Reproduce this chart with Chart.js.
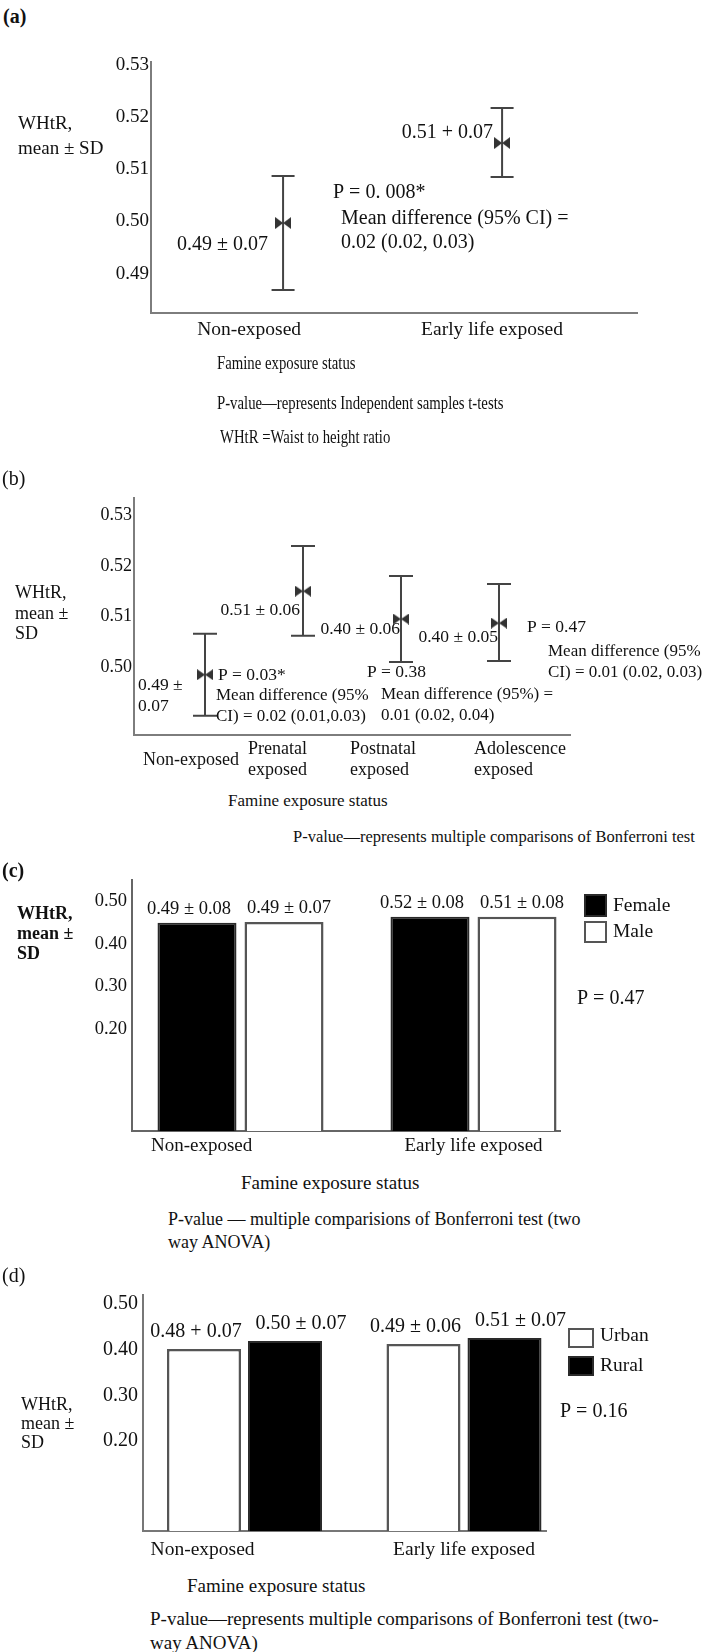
<!DOCTYPE html>
<html>
<head>
<meta charset="utf-8">
<title>WHtR by famine exposure</title>
<script src="https://cdn.jsdelivr.net/npm/chart.js@4.4.1/dist/chart.umd.min.js"></script>
<style>
    html, body { margin: 0; padding: 0; background: #fff; }
    #page {
        position: relative;
        width: 712px;
        height: 1652px;
        overflow: hidden;
        font-family: "Liberation Serif", "Times New Roman", serif;
        color: #111;
    }
    #page canvas { position: absolute; left: 0; }
    .txt { position: absolute; white-space: nowrap; }
    .narrow { transform: scaleX(0.82); transform-origin: 0 0; }
</style>
</head>
<body>
<div id="page">
    <canvas id="chartA" width="712" height="330" style="top:30px;width:712px;height:330px"></canvas>
    <canvas id="chartB" width="712" height="300" style="top:485px;width:712px;height:300px"></canvas>
    <canvas id="chartC" width="712" height="305" style="top:860px;width:712px;height:305px"></canvas>
    <canvas id="chartD" width="712" height="290" style="top:1280px;width:712px;height:290px"></canvas>

    <!-- panel letters -->
    <div class="txt" style="left:3px;top:5px;font-size:20px;line-height:22px;font-weight:bold">(a)</div>
    <div class="txt" style="left:2px;top:467px;font-size:20px;line-height:22px">(b)</div>
    <div class="txt" style="left:2px;top:859px;font-size:20px;line-height:22px;font-weight:bold">(c)</div>
    <div class="txt" style="left:2px;top:1264px;font-size:20px;line-height:22px">(d)</div>

    <!-- y axis titles -->
    <div class="txt" style="left:18px;top:110px;font-size:19px;line-height:25px">WHtR,<br>mean ± SD</div>
    <div class="txt" style="left:15px;top:582px;font-size:18px;line-height:20.5px">WHtR,<br>mean ±<br>SD</div>
    <div class="txt" style="left:17px;top:903px;font-size:18px;line-height:20px;font-weight:bold">WHtR,<br>mean ±<br>SD</div>
    <div class="txt" style="left:21px;top:1395px;font-size:18px;line-height:19px">WHtR,<br>mean ±<br>SD</div>

    <!-- footers -->
    <div class="txt narrow" style="left:217px;top:352px;font-size:18px;line-height:22px">Famine exposure status</div>
    <div class="txt narrow" style="left:217px;top:392px;font-size:18px;line-height:22px">P-value—represents Independent samples t-tests</div>
    <div class="txt narrow" style="left:220px;top:426px;font-size:18px;line-height:22px">WHtR =Waist to height ratio</div>

    <div class="txt" style="left:228px;top:791px;font-size:17px;line-height:20px">Famine exposure status</div>
    <div class="txt" style="left:293px;top:827px;font-size:16.5px;line-height:20px">P-value—represents multiple comparisons of Bonferroni test</div>

    <div class="txt" style="left:241px;top:1172px;font-size:19px;line-height:22px">Famine exposure status</div>
    <div class="txt" style="left:168px;top:1208px;font-size:18px;line-height:23px">P-value — multiple comparisions of Bonferroni test (two<br>way ANOVA)</div>

    <div class="txt" style="left:187px;top:1575px;font-size:19px;line-height:22px">Famine exposure status</div>
    <div class="txt" style="left:150px;top:1607px;font-size:19px;line-height:24px">P-value—represents multiple comparisons of Bonferroni test (two-<br>way ANOVA)</div>
</div>

<script>
// ---- data (value-axis units) ----

// (a) early life exposure vs non-exposed
const aCategories = ['Non-exposed', 'Early life exposed'];
const aMean = [0.4997, 0.5150];
const aLower = [0.4869, 0.5085];
const aUpper = [0.5087, 0.5217];
const aYTicks = [0.49, 0.50, 0.51, 0.52, 0.53];
const aValueLabels = ['0.49 ± 0.07', '0.51 + 0.07'];

// (b) exposure by life stage
const bCategories = ['Non-exposed', ['Prenatal', 'exposed'], ['Postnatal', 'exposed'], ['Adolescence', 'exposed']];
const bMean = [0.4985, 0.5150, 0.5095, 0.5087];
const bLower = [0.4904, 0.5062, 0.5010, 0.5012];
const bUpper = [0.5066, 0.5239, 0.5180, 0.5164];
const bYTicks = [0.50, 0.51, 0.52, 0.53];
const bValueLabels = ['0.49 ± 0.07', '0.51 ± 0.06', '0.40 ± 0.06', '0.40 ± 0.05'];

// (c) by sex
const cCategories = ['Non-exposed', 'Early life exposed'];
const cFemale = [0.449, 0.463];
const cMale = [0.451, 0.463];
const cFemaleLabels = ['0.49 ± 0.08', '0.52 ± 0.08'];
const cMaleLabels = ['0.49 ± 0.07', '0.51 ± 0.08'];
const cYTicks = [0.20, 0.30, 0.40, 0.50];

// (d) by residence
const dCategories = ['Non-exposed', 'Early life exposed'];
const dUrban = [0.4015, 0.4125];
const dRural = [0.4190, 0.4256];
const dUrbanLabels = ['0.48 + 0.07', '0.49 ± 0.06'];
const dRuralLabels = ['0.50 ± 0.07', '0.51 ± 0.07'];
const dYTicks = [0.20, 0.30, 0.40, 0.50];

// ---- shared helpers ----
const FONT = '"Liberation Serif", "Times New Roman", serif';
Chart.defaults.font.family = FONT;
Chart.defaults.color = '#111';

function yAxis(min, max, ticks, width, fontSize, pad, borderColor) {
    return {
        type: 'linear',
        min: min,
        max: max,
        bounds: 'data',
        afterBuildTicks: scale => { scale.ticks = ticks.map(v => ({ value: v })); },
        afterFit: scale => { scale.width = width; scale.paddingTop = 0; scale.paddingBottom = 0; },
        grid: { display: false, drawTicks: false },
        border: { display: true, color: borderColor, width: 2 },
        ticks: {
            color: '#111',
            padding: pad,
            font: { size: fontSize },
            callback: v => v.toFixed(2)
        }
    };
}

// category labels sit a little off the category centre in the original,
// so each tick gets a small nudge (in category widths)
function xAxis(min, max, labels, height, fontSize, pad, borderColor, nudge, extra) {
    const axis = {
        type: 'linear',
        min: min,
        max: max,
        bounds: 'data',
        offset: false,
        afterBuildTicks: scale => { scale.ticks = labels.map((l, i) => ({ value: i + nudge[i] })); },
        afterFit: scale => { scale.height = height; scale.paddingLeft = 0; scale.paddingRight = 0; },
        grid: { display: false, drawTicks: false, offset: false },
        border: { display: true, color: borderColor, width: 2 },
        ticks: {
            color: '#111',
            padding: pad,
            autoSkip: false,
            maxRotation: 0,
            minRotation: 0,
            font: { size: fontSize, lineHeight: 1.2 },
            callback: (v, i) => labels[i]
        }
    };
    Object.assign(axis.ticks, extra || {});
    return axis;
}

// bow-tie marker used for the means
function makeBowtie(w, h, color) {
    const c = document.createElement('canvas');
    c.width = w;
    c.height = h;
    const g = c.getContext('2d');
    g.fillStyle = color;
    g.beginPath();
    g.moveTo(0, 0); g.lineTo(w / 2, h / 2); g.lineTo(0, h); g.closePath();
    g.moveTo(w, 0); g.lineTo(w / 2, h / 2); g.lineTo(w, h); g.closePath();
    g.fill();
    return c;
}

// SD whiskers drawn through the chart's scales
function errorBars(lower, upper, capHalf, color) {
    return {
        id: 'errorBars',
        beforeDatasetsDraw(chart) {
            const ctx = chart.ctx;
            const xs = chart.scales.x;
            const ys = chart.scales.y;
            ctx.save();
            ctx.strokeStyle = color;
            ctx.lineWidth = 2;
            lower.forEach((lo, i) => {
                const x = xs.getPixelForValue(i);
                const y1 = ys.getPixelForValue(lo);
                const y2 = ys.getPixelForValue(upper[i]);
                ctx.beginPath();
                ctx.moveTo(x, y1); ctx.lineTo(x, y2);
                ctx.moveTo(x - capHalf, y1); ctx.lineTo(x + capHalf, y1);
                ctx.moveTo(x - capHalf, y2); ctx.lineTo(x + capHalf, y2);
                ctx.stroke();
            });
            ctx.restore();
        }
    };
}

// free text, given in page coordinates
function notes(canvasTop, items) {
    return {
        id: 'notes',
        afterDraw(chart) {
            const ctx = chart.ctx;
            ctx.save();
            ctx.fillStyle = '#111';
            ctx.textBaseline = 'middle';
            items.forEach(t => {
                ctx.font = (t.weight || 'normal') + ' ' + t.size + 'px ' + FONT;
                ctx.textAlign = t.align || 'left';
                ctx.fillText(t.text, t.x, t.y - canvasTop);
            });
            ctx.restore();
        }
    };
}

// labels centred above each bar
function barLabels(sets, fontSize, lift) {
    return {
        id: 'barLabels',
        afterDatasetsDraw(chart) {
            const ctx = chart.ctx;
            ctx.save();
            ctx.fillStyle = '#111';
            ctx.textAlign = 'center';
            ctx.textBaseline = 'middle';
            ctx.font = fontSize + 'px ' + FONT;
            sets.forEach((set, di) => {
                chart.getDatasetMeta(di).data.forEach((bar, i) => {
                    ctx.fillText(set.labels[i], bar.x + set.dx, bar.y - lift);
                });
            });
            ctx.restore();
        }
    };
}

// small legend boxes, page coordinates
function boxLegend(canvasTop, entries, fontSize) {
    return {
        id: 'boxLegend',
        afterDraw(chart) {
            const ctx = chart.ctx;
            ctx.save();
            ctx.font = fontSize + 'px ' + FONT;
            ctx.textBaseline = 'middle';
            ctx.textAlign = 'left';
            entries.forEach(e => {
                const ds = chart.data.datasets[e.dataset];
                const y = e.y - canvasTop;
                ctx.fillStyle = ds.backgroundColor;
                ctx.fillRect(e.x, y, e.w, e.h);
                ctx.strokeStyle = ds.borderColor;
                ctx.lineWidth = 2;
                ctx.strokeRect(e.x + 1, y + 1, e.w - 2, e.h - 2);
                ctx.fillStyle = '#111';
                ctx.fillText(ds.label, e.x + e.w + 6, e.textY - canvasTop);
            });
            ctx.restore();
        }
    };
}

const common = {
    responsive: false,
    animation: false,
    events: [],
    plugins: { legend: { display: false }, tooltip: { enabled: false } }
};

// ---- (a) ----
const topA = 30;
new Chart(document.getElementById('chartA'), {
    type: 'scatter',
    data: {
        datasets: [{
            label: 'WHtR',
            data: aMean.map((y, i) => ({ x: i, y: y })),
            pointStyle: makeBowtie(16, 12, '#333'),
            pointRadius: 6
        }]
    },
    options: {
        ...common,
        layout: { autoPadding: false, padding: { top: 32, right: 75, bottom: 7, left: 0 } },
        scales: {
            x: xAxis(-0.603, 1.616, aCategories, 40, 19.5, 5, '#7d7d7d', [-0.155, -0.046]),
            y: yAxis(0.4825, 0.5305, aYTicks, 151, 19, 2, '#7d7d7d')
        }
    },
    plugins: [
        errorBars(aLower, aUpper, 11.5, '#444'),
        {
            id: 'pointLabels',
            afterDatasetsDraw(chart) {
                const ctx = chart.ctx;
                const pts = chart.getDatasetMeta(0).data;
                ctx.save();
                ctx.fillStyle = '#111';
                ctx.font = '20px ' + FONT;
                ctx.textAlign = 'right';
                ctx.textBaseline = 'middle';
                ctx.fillText(aValueLabels[0], pts[0].x - 15, pts[0].y + 22);
                ctx.fillText(aValueLabels[1], pts[1].x - 9, pts[1].y - 10);
                ctx.restore();
            }
        },
        notes(topA, [
            { text: 'P = 0. 008*', x: 333, y: 193, size: 20 },
            { text: 'Mean difference (95% CI) =', x: 341, y: 219, size: 20 },
            { text: '0.02 (0.02, 0.03)', x: 341, y: 243, size: 20 }
        ])
    ]
});

// ---- (b) ----
const topB = 485;
const bNon = bValueLabels[0].split(' ± ');
new Chart(document.getElementById('chartB'), {
    type: 'scatter',
    data: {
        datasets: [{
            label: 'WHtR',
            data: bMean.map((y, i) => ({ x: i, y: y })),
            pointStyle: makeBowtie(16, 11, '#333'),
            pointRadius: 6
        }]
    },
    options: {
        ...common,
        layout: { autoPadding: false, padding: { top: 13, right: 142, bottom: 2, left: 0 } },
        scales: {
            x: xAxis(-0.7245, 3.7245, bCategories, 48, 18, 14, '#7d7d7d', [-0.633, -0.561, -0.520, -0.255],
                { align: 'start', crossAlign: 'center' }),
            y: yAxis(0.4866, 0.5334, bYTicks, 134, 18, 2, '#7d7d7d')
        }
    },
    plugins: [
        errorBars(bLower, bUpper, 12, '#444'),
        notes(topB, [
            { text: bNon[0] + ' ±', x: 138, y: 685, size: 17.5 },
            { text: bNon[1], x: 138, y: 706, size: 17.5 },
            { text: bValueLabels[1], x: 300, y: 610, size: 17.5, align: 'right' },
            { text: bValueLabels[2], x: 400, y: 629, size: 17.5, align: 'right' },
            { text: bValueLabels[3], x: 498, y: 637, size: 17.5, align: 'right' },
            { text: 'P = 0.03*', x: 218, y: 675, size: 17.5 },
            { text: 'Mean difference (95%', x: 216, y: 696, size: 17 },
            { text: 'CI) = 0.02 (0.01,0.03)', x: 216, y: 717, size: 17 },
            { text: 'P = 0.38', x: 367, y: 672, size: 17.5 },
            { text: 'Mean difference (95%) =', x: 381, y: 695, size: 17 },
            { text: '0.01 (0.02, 0.04)', x: 381, y: 716, size: 17 },
            { text: 'P = 0.47', x: 527, y: 627, size: 17.5 },
            { text: 'Mean difference (95%', x: 548, y: 652, size: 17 },
            { text: 'CI) = 0.01 (0.02, 0.03)', x: 548, y: 673, size: 17 }
        ])
    ]
});

// ---- (c) ----
const topC = 860;
const cMin = -0.0397;
new Chart(document.getElementById('chartC'), {
    type: 'bar',
    data: {
        datasets: [{
            label: 'Female',
            data: cFemale.map((y, i) => ({ x: i, y: y })),
            backgroundColor: '#000',
            borderColor: '#2a2a2a',
            borderWidth: 2,
            base: cMin,
            categoryPercentage: 0.747,
            barPercentage: 0.908
        }, {
            label: 'Male',
            data: cMale.map((y, i) => ({ x: i, y: y })),
            backgroundColor: '#fff',
            borderColor: '#555',
            borderWidth: 2.5,
            base: cMin,
            categoryPercentage: 0.747,
            barPercentage: 0.908
        }]
    },
    options: {
        ...common,
        layout: { autoPadding: false, padding: { top: 20, right: 152, bottom: 4, left: 0 } },
        scales: {
            x: xAxis(-0.4657, 1.3712, cCategories, 30, 19, 4, '#666', [-0.167, 0]),
            y: yAxis(cMin, 0.5495, cYTicks, 132, 18.5, 5, '#666')
        }
    },
    plugins: [
        barLabels([{ labels: cFemaleLabels, dx: -8 }, { labels: cMaleLabels, dx: 5 }], 18.5, 14),
        boxLegend(topC, [
            { dataset: 0, x: 584, y: 894, w: 23, h: 23, textY: 906 },
            { dataset: 1, x: 584, y: 921, w: 23, h: 22, textY: 932 }
        ], 19.5),
        notes(topC, [{ text: 'P = 0.47', x: 577, y: 999, size: 20 }])
    ]
});

// ---- (d) ----
const topD = 1280;
const dMin = 0.0033;
new Chart(document.getElementById('chartD'), {
    type: 'bar',
    data: {
        datasets: [{
            label: 'Urban',
            data: dUrban.map((y, i) => ({ x: i, y: y })),
            backgroundColor: '#fff',
            borderColor: '#555',
            borderWidth: 2.5,
            base: dMin,
            categoryPercentage: 0.738,
            barPercentage: 0.914
        }, {
            label: 'Rural',
            data: dRural.map((y, i) => ({ x: i, y: y })),
            backgroundColor: '#000',
            borderColor: '#2a2a2a',
            borderWidth: 2,
            base: dMin,
            categoryPercentage: 0.738,
            barPercentage: 0.914
        }]
    },
    options: {
        ...common,
        layout: { autoPadding: false, padding: { top: 15, right: 166, bottom: 4, left: 0 } },
        scales: {
            x: xAxis(-0.4624, 1.3736, dCategories, 35, 19.5, 7, '#777', [-0.191, 0]),
            y: yAxis(dMin, 0.5197, dYTicks, 143, 20, 5, '#777')
        }
    },
    plugins: [
        barLabels([{ labels: dUrbanLabels, dx: -8 }, { labels: dRuralLabels, dx: 16 }], 20, 17),
        boxLegend(topD, [
            { dataset: 0, x: 568, y: 1328, w: 26, h: 20, textY: 1336 },
            { dataset: 1, x: 568, y: 1356, w: 26, h: 20, textY: 1366 }
        ], 19.5),
        notes(topD, [{ text: 'P = 0.16', x: 560, y: 1412, size: 20 }])
    ]
});
</script>
</body>
</html>
